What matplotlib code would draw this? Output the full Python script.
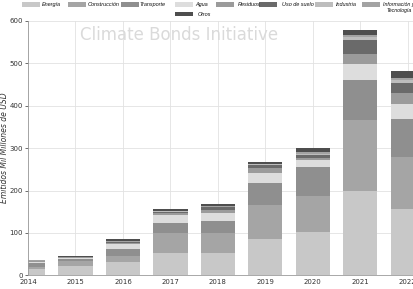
import numpy as np
import matplotlib
matplotlib.use('Agg')
import matplotlib.pyplot as plt
from matplotlib.patches import Rectangle

### Data (miles de millones USD)
years = [2014, 2015, 2016, 2017, 2018, 2019, 2020, 2021, 2022]
categories = ['Energía', 'Construcción', 'Transporte', 'Agua', 'Residuos',
              'Uso de suelo', 'Industria', 'Información y\nTecnología', 'Otros']

energia      = [15, 22, 32, 52, 53, 85, 103, 200, 157]
construccion = [5, 11, 14, 47, 46, 81, 84, 166, 123]
transporte   = [8, 6, 16, 24, 30, 51, 68, 95, 89]
agua         = [3, 2, 11, 19, 19, 25, 17, 37, 34]
residuos     = [2, 1, 3, 5, 6, 10, 5, 24, 26]
uso_suelo    = [1, 1, 2, 3, 6, 8, 7, 33, 25]
industria    = [0.5, 0.5, 1, 1, 2, 2, 3, 6, 7]
informacion  = [0.5, 0.5, 1, 1, 2, 1, 3, 5, 4]
otros        = [2, 1, 6, 5, 4, 4, 10, 12, 18]

series = [energia, construccion, transporte, agua, residuos,
          uso_suelo, industria, informacion, otros]
colors = ['#c8c8c8', '#a5a5a5', '#8f8f8f', '#dddddd', '#9b9b9b',
          '#6a6a6a', '#bdbdbd', '#a3a3a3', '#4e4e4e']

W, H = 414, 289
fig = plt.figure(figsize=(W / 100, H / 100), dpi=100)
ax = fig.add_axes([28 / W, 1 - 275.3 / H, 1 - 28 / W, (275.3 - 20.9) / H])

bottom = np.zeros(len(years))
for vals, col in zip(series, colors):
    ax.bar(years, vals, width=0.72, bottom=bottom, color=col, zorder=2)
    bottom += np.array(vals)

ax.set_xlim(2014, 2022.13)
ax.set_ylim(0, 600)
ax.set_xticks(years)
ax.set_yticks(range(0, 601, 100))
ax.tick_params(axis='both', labelsize=5, colors='#333333', length=2, width=0.5, pad=1.5)
ax.tick_params(axis='x', length=0, pad=3)
ax.grid(True, color='#e2e2e2', linewidth=0.6, zorder=0)
ax.set_axisbelow(True)
for s in ['top', 'right']:
    ax.spines[s].set_visible(False)
for s in ['left', 'bottom']:
    ax.spines[s].set_color('#9a9a9a')
    ax.spines[s].set_linewidth(0.6)

ax.set_ylabel('Emitidos Mil Millones de USD', fontsize=5.5, style='italic',
              color='#333333')
ax.yaxis.set_label_coords(-0.05, 0.5)

### watermark
ax.text(0.135, 0.945, 'Climate Bonds Initiative', transform=ax.transAxes,
        fontsize=12, color='#dadada', ha='left', va='center', zorder=1)

### legend drawn by hand (pixel layout of the original)
# (patch x, text x, row y) in pixels from top-left
leg_pos = [(22, 42, 4.7), (68, 88, 4.7), (121, 140, 4.7), (175, 195, 4.7),
           (216, 238, 4.7), (259, 282, 4.7), (315, 336, 4.7), (362, 383, 4.7),
           (175, 198, 14.0)]
for (px, tx, py), lab, col in zip(leg_pos, categories, colors):
    fig.add_artist(Rectangle((px / W, 1 - (py + 2.4) / H), 18 / W, 4.8 / H,
                             transform=fig.transFigure, facecolor=col,
                             edgecolor='none'))
    if '\n' in lab:
        fig.text(tx / W, 1 - (py - 2.5) / H, lab, fontsize=3.8, style='italic',
                 family='Liberation Sans', color='#111111', ha='left', va='top',
                 multialignment='center', linespacing=1.2)
    else:
        fig.text(tx / W, 1 - py / H, lab, fontsize=4, style='italic',
                 family='Liberation Sans', color='#111111', ha='left', va='center')

fig.savefig('out.png', dpi=100)
